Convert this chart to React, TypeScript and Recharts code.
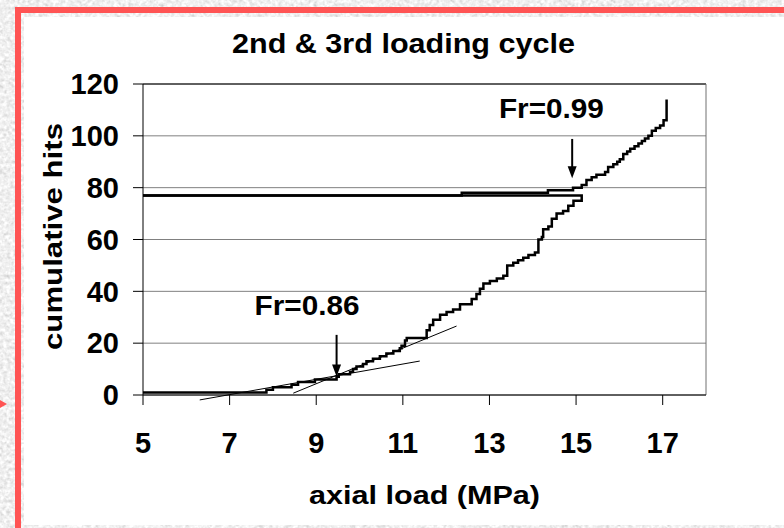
import React from 'react';
import {
  LineChart,
  Line,
  XAxis,
  YAxis,
  CartesianGrid,
  ReferenceLine,
  ReferenceDot,
  Label,
} from 'recharts';

const FONT = '"Liberation Sans", Arial, Helvetica, sans-serif';

// Axis ticks
const xTicks = [5, 7, 9, 11, 13, 15, 17];
const yTicks = [0, 20, 40, 60, 80, 100, 120];

// 2nd loading cycle: load (MPa) at which the cumulative hit count steps up,
// ending with the unload back to 5 MPa
const cycle2Load = [
  5.0, 7.85, 8.0, 8.43, 8.58, 8.97, 9.47, 9.52, 9.78, 9.85, 9.93, 10.08, 10.16,
  10.31, 10.47, 10.62, 10.78, 10.93, 10.97, 11.05, 11.09, 11.55, 11.62, 11.7,
  11.86, 12.01, 12.16, 12.32, 12.59, 12.7, 12.78, 12.86, 13.01, 13.17, 13.32,
  13.41, 13.55, 13.66, 13.78, 13.9, 14.05, 14.13, 14.21, 14.24, 14.36, 14.44,
  14.55, 14.7, 14.82, 14.94, 15.13, 5.0,
];
const cycle2Hits = [
  1, 2, 3, 4, 5, 6, 7, 8, 9, 10, 11, 12, 13, 14, 15, 16, 17, 18, 19, 21, 22,
  25, 27, 29, 31, 32, 33, 35, 37, 39, 41, 43, 44, 45, 46, 50, 51, 52, 53, 54,
  55, 60, 61, 64, 65, 68, 70, 71, 73, 75, 77, 77,
];

// 3rd loading cycle
const cycle3Load = [
  5.0, 12.36, 14.35, 14.93, 15.13, 15.24, 15.36, 15.47, 15.67, 15.74, 15.86,
  15.95, 16.01, 16.09, 16.18, 16.25, 16.35, 16.44, 16.52, 16.59, 16.67, 16.75,
  16.84, 16.94, 17.02, 17.09,
];
const cycle3Hits = [
  77, 78, 79, 80, 81, 83, 84, 85, 86, 88, 89, 90, 91, 93, 94, 95, 96, 97, 98,
  99, 100, 102, 103, 104, 106, 114,
];

// Tangent construction lines used to find the emission onset
const tangentLowLoad = [6.31, 11.39];
const tangentLowHits = [-1.9, 13.1];
const tangentHighLoad = [8.47, 12.24];
const tangentHighHits = [0.7, 26.6];

// Felicity ratio annotations
const frText = ['Fr=0.86', 'Fr=0.99'];
const frArrowLoad = [9.47, 14.91];
const frArrowTop = [23.2, 98.8];
const frArrowTip = [7.1, 83.6];
const frTextLoad = [8.79, 14.43];
const frTextHits = [30.9, 106.9];

const cycle2 = cycle2Load.map((load, i) => ({ load, hits: cycle2Hits[i] }));
const cycle3 = cycle3Load.map((load, i) => ({ load, hits: cycle3Hits[i] }));

const tickStyle = { fontSize: 29, fontWeight: 700, fill: '#000', fontFamily: FONT };

const ArrowHead = (props: any) => {
  const { cx, cy } = props;
  if (cx == null || cy == null) return <g />;
  return (
    <polygon
      points={`${cx - 4.5},${cy - 12} ${cx + 4.5},${cy - 12} ${cx},${cy}`}
      fill="#000"
    />
  );
};

const frLabel = (text: string) => (props: any) => {
  const vb = props.viewBox || {};
  const x = (vb.x ?? 0) + (vb.width ?? 0) / 2;
  const y = (vb.y ?? 0) + (vb.height ?? 0) / 2;
  return (
    <text
      x={x}
      y={y}
      textAnchor="middle"
      fontFamily={FONT}
      fontWeight={700}
      fontSize={28}
      fill="#000"
      textLength={105}
      lengthAdjust="spacingAndGlyphs"
    >
      {text}
    </text>
  );
};

export default function App() {
  return (
    <div
      style={{
        position: 'absolute',
        left: 0,
        top: 0,
        width: 784,
        height: 528,
        overflow: 'hidden',
        background: '#dfdfdf',
      }}
    >
      {/* mottled grey backdrop */}
      <svg width={784} height={528} style={{ position: 'absolute', left: 0, top: 0 }}>
        <filter id="grain" x="0" y="0" width="100%" height="100%">
          <feTurbulence type="fractalNoise" baseFrequency="0.28" numOctaves={2} seed={4} />
          <feColorMatrix
            type="matrix"
            values="0.3 0.3 0.3 0 0.42  0.3 0.3 0.3 0 0.42  0.3 0.3 0.3 0 0.42  0 0 0 0 1"
          />
        </filter>
        <rect x={0} y={0} width={784} height={528} filter="url(#grain)" />
      </svg>
      {/* red frame */}
      <div style={{ position: 'absolute', left: 15, top: 7, width: 6, height: 521, background: '#ff5454' }} />
      <div style={{ position: 'absolute', left: 15, top: 7, width: 769, height: 6, background: '#ff5454' }} />
      <svg width={10} height={12} style={{ position: 'absolute', left: 0, top: 398 }}>
        <polygon points="0,2 7,6 0,10" fill="#ff5454" />
      </svg>
      {/* white panel */}
      <div style={{ position: 'absolute', left: 24, top: 17, width: 760, height: 508, background: '#fff' }} />

      <div style={{ position: 'absolute', left: 0, top: 0 }}>
        <LineChart
          width={784}
          height={528}
          margin={{ top: 84, right: 78, bottom: 53, left: 83 }}
        >
          <CartesianGrid horizontal vertical={false} stroke="#808080" strokeWidth={1} />
          <XAxis
            type="number"
            dataKey="load"
            domain={[5, 18]}
            ticks={xTicks}
            interval={0}
            allowDataOverflow
            height={80}
            tickSize={10}
            tickMargin={27}
            stroke="#000"
            tick={tickStyle}
          >
            <Label
              content={(p: any) => {
                const vb = p.viewBox || {};
                return (
                  <text
                    x={vb.x + vb.width / 2}
                    y={vb.y + 109}
                    textAnchor="middle"
                    fontFamily={FONT}
                    fontWeight={700}
                    fontSize={26}
                    fill="#000"
                    textLength={231}
                    lengthAdjust="spacingAndGlyphs"
                  >
                    axial load (MPa)
                  </text>
                );
              }}
            />
          </XAxis>
          <YAxis
            type="number"
            domain={[0, 120]}
            ticks={yTicks}
            interval={0}
            allowDataOverflow
            width={60}
            tickSize={10}
            tickMargin={14}
            stroke="#000"
            tick={tickStyle}
          >
            <Label
              content={(p: any) => {
                const vb = p.viewBox || {};
                const x = vb.x - 21;
                const y = vb.y + vb.height / 2 - 3;
                return (
                  <text
                    x={x}
                    y={y}
                    transform={`rotate(-90 ${x} ${y})`}
                    textAnchor="middle"
                    fontFamily={FONT}
                    fontWeight={700}
                    fontSize={26}
                    fill="#000"
                    textLength={227}
                    lengthAdjust="spacingAndGlyphs"
                  >
                    cumulative hits
                  </text>
                );
              }}
            />
          </YAxis>

          {/* plot frame */}
          <ReferenceLine y={120} stroke="#000" strokeWidth={1} />
          <ReferenceLine x={18} stroke="#707070" strokeWidth={1} />

          {/* tangent construction lines */}
          <ReferenceLine
            segment={[
              { x: tangentLowLoad[0], y: tangentLowHits[0] },
              { x: tangentLowLoad[1], y: tangentLowHits[1] },
            ]}
            stroke="#000"
            strokeWidth={1}
            ifOverflow="visible"
          />
          <ReferenceLine
            segment={[
              { x: tangentHighLoad[0], y: tangentHighHits[0] },
              { x: tangentHighLoad[1], y: tangentHighHits[1] },
            ]}
            stroke="#000"
            strokeWidth={1}
            ifOverflow="visible"
          />

          <Line
            data={cycle2}
            dataKey="hits"
            type="stepAfter"
            stroke="#000"
            strokeWidth={2.5}
            dot={false}
            activeDot={false}
            isAnimationActive={false}
          />
          <Line
            data={cycle3}
            dataKey="hits"
            type="stepAfter"
            stroke="#000"
            strokeWidth={2.5}
            dot={false}
            activeDot={false}
            isAnimationActive={false}
          />

          {/* Felicity ratio arrows */}
          {frArrowLoad.map((x, i) => (
            <ReferenceLine
              key={`shaft-${i}`}
              segment={[
                { x, y: frArrowTop[i] },
                { x, y: frArrowTip[i] + 3 },
              ]}
              stroke="#000"
              strokeWidth={2}
              ifOverflow="visible"
            />
          ))}
          {frArrowLoad.map((x, i) => (
            <ReferenceDot
              key={`head-${i}`}
              x={x}
              y={frArrowTip[i]}
              r={0}
              ifOverflow="visible"
              shape={ArrowHead}
            />
          ))}
          {frText.map((t, i) => (
            <ReferenceDot
              key={`fr-${i}`}
              x={frTextLoad[i]}
              y={frTextHits[i]}
              r={0}
              ifOverflow="visible"
              fill="none"
              stroke="none"
              label={{ content: frLabel(t) }}
            />
          ))}
        </LineChart>
      </div>

      {/* chart title */}
      <svg
        width={784}
        height={80}
        style={{ position: 'absolute', left: 0, top: 0, pointerEvents: 'none' }}
      >
        <text
          x={403.5}
          y={53}
          textAnchor="middle"
          fontFamily={FONT}
          fontWeight={700}
          fontSize={28}
          fill="#000"
          textLength={343}
          lengthAdjust="spacingAndGlyphs"
        >
          2nd &amp; 3rd loading cycle
        </text>
      </svg>
    </div>
  );
}
